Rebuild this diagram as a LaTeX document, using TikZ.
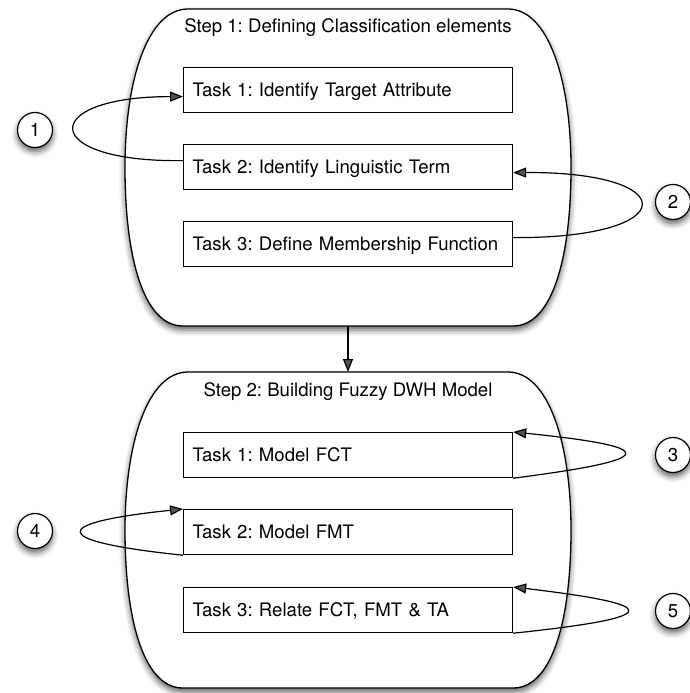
\documentclass[tikz,border=0pt]{standalone}
\usepackage{fontspec}
\setmainfont{TeX Gyre Heros}
\frenchspacing
\usetikzlibrary{arrows.meta,shadows.blur}
\tikzset{
  myshadow/.style={blur shadow={shadow xshift=0pt, shadow yshift=-4pt, shadow blur radius=6pt, shadow opacity=65}},
  container/.style={draw, fill=white, line width=1.3pt, myshadow},
  taskbox/.style={draw, fill=white, rectangle, anchor=north west, minimum width=329pt, minimum height=45pt,
    text width=311pt, inner xsep=9pt, inner ysep=0pt, align=left, text height=13.3pt, text depth=0pt},
  circ/.style={draw, fill=white, circle, minimum size=35pt, inner sep=0pt, line width=1.2pt, myshadow},
  looparrow/.style={line width=1.2pt, -{Triangle[length=13pt,width=10pt]}},
  title/.style={anchor=base}
}
\newcommand\drawbarrel[2]{%
  \pgfmathsetmacro\barrelmid{(#1+#2)/2}
  \path[container] (188,#1) -- (508,#1)
    .. controls (548,#1) and (571,#1+70) .. (571,\barrelmid)
    .. controls (571,#2-70) and (553,#2) .. (513,#2) -- (183,#2)
    .. controls (143,#2) and (125,#2-70) .. (125,\barrelmid)
    .. controls (125,#1+70) and (148,#1) .. (188,#1) -- cycle;
}
\begin{document}
\begin{tikzpicture}[x=1pt, y=-1pt, line width=1.2pt, font=\fontsize{18.6}{22}\selectfont]
\useasboundingbox (0,0) rectangle (690,693);
% containers
\drawbarrel{9}{326}
\drawbarrel{372}{688}
\node[title] (s1) at (348,33) {Step 1: Defining Classification elements};
\node[title] (s2) at (348,396) {Step 2: Building Fuzzy DWH Model};
\coordinate (c1b) at (348,326);
\coordinate (c2t) at (348,372);
\draw[looparrow] (c1b) -- (c2t);
% tasks
\node[taskbox] (a1) at (183,67) {Task 1: Identify Target Attribute};
\node[taskbox] (a2) at (183,144) {Task 2: Identify Linguistic Term};
\node[taskbox] (a3) at (183,221) {Task 3: Define Membership Function};
\node[taskbox] (b1) at (183,432) {Task 1: Model FCT};
\node[taskbox] (b2) at (183,509) {Task 2: Model FMT};
\node[taskbox] (b3) at (183,587) {Task 3: Relate FCT, FMT \& TA};
% loops
\draw[looparrow] ([yshift=6.5pt]a2.west) .. controls +(-145,2) and +(-145,0) .. ([yshift=-6.5pt]a1.west);
\draw[looparrow] ([yshift=6.5pt]a3.east) .. controls +(170,1) and +(170,-1) .. ([yshift=-5.5pt]a2.east);
\draw[looparrow] (b1.south east) .. controls +(148,-19) and +(148,15) .. (b1.north east);
\draw[looparrow] (b2.south west) .. controls +(-135,-14) and +(-135,14) .. (b2.north west);
\draw[looparrow] (b3.south east) .. controls +(152,-16) and +(152,18) .. (b3.north east);
% numbered circles
\node[circ] (n1) at (35,130) {1};
\node[circ] (n2) at (673,202) {2};
\node[circ] (n3) at (673,455) {3};
\node[circ] (n4) at (35,531) {4};
\node[circ] (n5) at (673,611) {5};
\end{tikzpicture}
\end{document}
